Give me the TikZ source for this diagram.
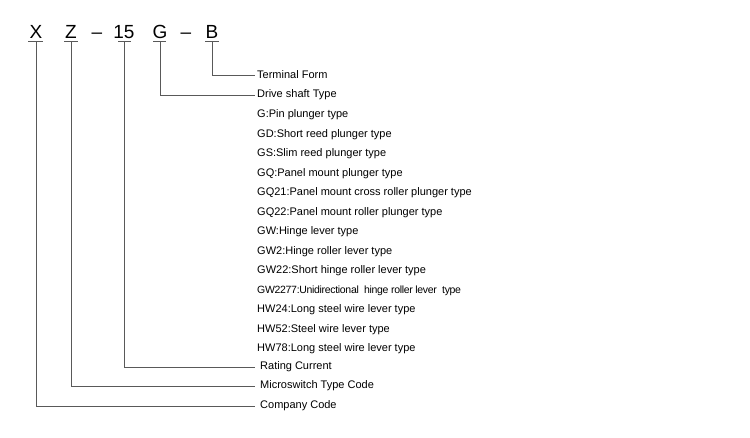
\documentclass[tikz,border=0pt]{standalone}
\usepackage{fontspec}
\setmainfont{Liberation Sans}
\begin{document}
\begin{tikzpicture}[x=1pt,y=-1pt,
  ln/.style={draw=black!65,line width=0.7pt},
  big/.style={font=\fontsize{19}{20}\selectfont,anchor=base},
  lab/.style={font=\fontsize{11}{12}\selectfont,anchor=west,inner sep=0pt}]
\useasboundingbox (0,0) rectangle (750,437);
\node[big] (X) at (36,38) {X};
\node[big] (Z) at (71,38) {Z};
\node[big] (d1) at (97,38) {–};
\node[big] (C) at (124,38) {15};
\node[big] (G) at (160,38) {G};
\node[big] (d2) at (186,38) {–};
\node[big] (B) at (212,38) {B};
\foreach \n/\a/\b in {X/28/43,Z/64/78,C/118/131,G/153/166,B/205/219}
  \draw[ln] (\a,41) -- (\b,41);
\node[lab] (t1) at (257,75) {Terminal Form};
\node[lab] (t2) at (257,95) {Drive shaft Type};
\foreach \i/\t in {0/G:Pin plunger type,1/GD:Short reed plunger type,2/GS:Slim reed plunger type,3/GQ:Panel mount plunger type,4/GQ21:Panel mount cross roller plunger type,5/GQ22:Panel mount roller plunger type,6/GW:Hinge lever type,7/GW2:Hinge roller lever type,8/GW22:Short hinge roller lever type,10/HW24:Long steel wire lever type,11/HW52:Steel wire lever type,12/HW78:Long steel wire lever type}
  \node[lab] (s\i) at (257,{115+19.5*\i}) {\t};
\node[lab,font=\fontsize{10.5}{12}\selectfont\addfontfeature{LetterSpace=-3}] (s9) at (257,{115+19.5*9}) {GW2277:Unidirectional\ \ hinge roller lever\ \ type};
\node[lab] (t3) at (260,367) {Rating Current};
\node[lab] (t4) at (260,386) {Microswitch Type Code};
\node[lab] (t5) at (260,406) {Company Code};
\coordinate (eB) at (255,75);
\coordinate (eG) at (255,95);
\coordinate (eC) at (255,367);
\coordinate (eZ) at (255,386);
\coordinate (eX) at (255,406);
\draw[ln] (212,41) |- (eB);
\draw[ln] (160,41) |- (eG);
\draw[ln] (124,41) |- (eC);
\draw[ln] (71,41) |- (eZ);
\draw[ln] (36,41) |- (eX);
\end{tikzpicture}
\end{document}
